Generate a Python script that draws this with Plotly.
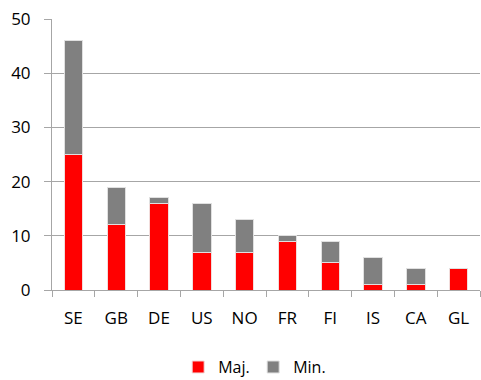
import plotly.graph_objects as go

countries = ["SE", "GB", "DE", "US", "NO", "FR", "FI", "IS", "CA", "GL"]
maj = [25, 12, 16, 7, 7, 9, 5, 1, 1, 4]
mino = [21, 7, 1, 9, 6, 1, 4, 5, 3, 0]
y_ticks = [0, 10, 20, 30, 40, 50]

font_family = "Open Sans, Liberation Sans, sans-serif"
axis_grey = "#a6a6a6"

fig = go.Figure()
fig.add_trace(go.Bar(x=countries, y=maj, name="Maj.", marker=dict(color="#ff0000", line=dict(color="#f2dcdb", width=1)), width=0.43))
fig.add_trace(go.Bar(x=countries, y=mino, name="Min.", marker=dict(color="#808080", line=dict(color="#e0e0e0", width=1)), width=0.43))

fig.update_layout(
    barmode="stack",
    width=481, height=380,
    margin=dict(l=52, r=1, t=19, b=90, autoexpand=False),
    plot_bgcolor="white", paper_bgcolor="white",
    font=dict(family=font_family, size=17, color="#000000"),
    showlegend=True,
    legend=dict(orientation="h", x=0.47, xanchor="center", yref="container", y=0.034, yanchor="middle",
                font=dict(size=16), entrywidth=30, traceorder="normal"),
)
fig.update_yaxes(range=[0, 50], tickvals=y_ticks, showgrid=True, gridcolor=axis_grey, gridwidth=1,
                 showline=True, linecolor=axis_grey, ticks="outside", ticklen=7, tickcolor=axis_grey,
                 ticklabelstandoff=10, zeroline=False, fixedrange=True, automargin=False)
fig.update_xaxes(showline=True, linecolor=axis_grey, ticks="outside", ticklen=6, tickcolor=axis_grey,
                 tickson="boundaries", ticklabelstandoff=13, showgrid=False, automargin=False)

fig.write_html("out.html")
